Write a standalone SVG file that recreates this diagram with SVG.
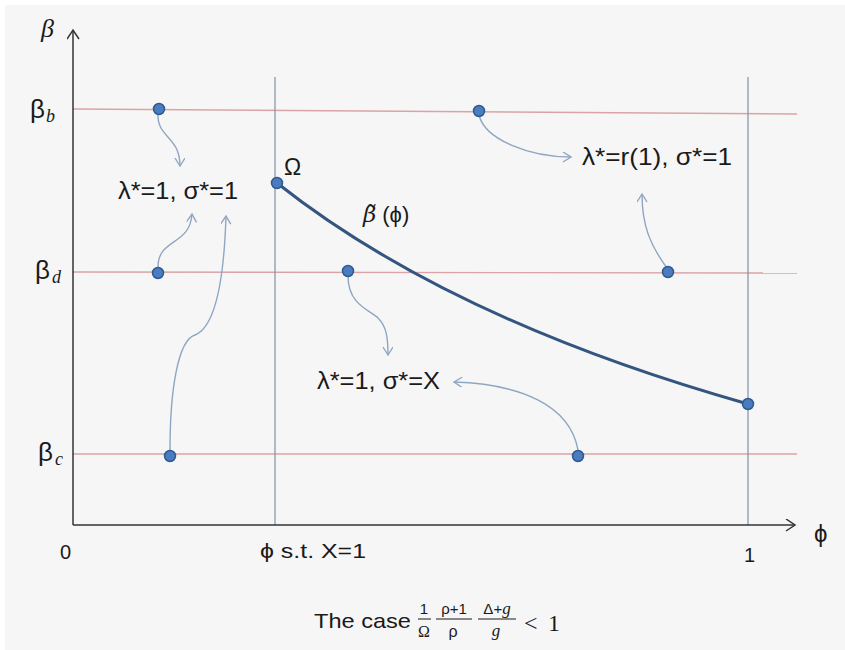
<svg xmlns="http://www.w3.org/2000/svg" width="845" height="650" viewBox="0 0 845 650">
<style>
.t{font-family:"Liberation Sans","DejaVu Sans",sans-serif;fill:#1a1a1a}
.s{font-family:"Liberation Serif","DejaVu Serif",serif;fill:#1a1a1a}
.dj{font-family:"DejaVu Serif",serif;fill:#1a1a1a}
.hl{stroke:#dba3a6;stroke-width:1.4;fill:none}
.vl{stroke:#7f93a8;stroke-width:1.2;fill:none}
.ax{stroke:#333;stroke-width:1.5;fill:none}
.cn{stroke:#8fa6c2;stroke-width:1.4;fill:none;marker-end:url(#ah)}
.dot{fill:#4a7cbf;stroke:#2f5a8f;stroke-width:1.5}
</style>
<defs>
<marker id="ah" markerUnits="userSpaceOnUse" markerWidth="12" markerHeight="12" refX="9" refY="5" orient="auto">
<path d="M1,0 L9,5 L1,10" fill="none" stroke="#8fa6c2" stroke-width="1.4"/>
</marker>
<marker id="axh" markerUnits="userSpaceOnUse" markerWidth="14" markerHeight="14" refX="10" refY="6" orient="auto">
<path d="M1,0 L10,6 L1,12" fill="none" stroke="#333" stroke-width="1.5"/>
</marker>
</defs>
<rect x="0" y="0" width="845" height="650" fill="#ffffff"/>
<rect x="5" y="5" width="840" height="645" fill="#f6f6f6"/>

<g id="grid">
<line class="hl" x1="73" y1="109" x2="797" y2="114"/>
<line class="hl" x1="73" y1="272" x2="797" y2="273"/>
<line class="hl" x1="73" y1="454" x2="797" y2="454"/>
<line class="vl" x1="275" y1="77" x2="275" y2="525"/>
<line class="vl" x1="748" y1="77" x2="748" y2="525"/>
</g>

<g id="axes">
<line class="ax" x1="73" y1="525" x2="73" y2="30" marker-end="url(#axh)"/>
<line class="ax" x1="73" y1="525" x2="795" y2="525" marker-end="url(#axh)"/>
<text class="s" x="41" y="37" font-size="26" font-style="italic">β</text>
<text class="t" x="814" y="542" font-size="24">ϕ</text>
<text class="t" x="60" y="559" font-size="20">0</text>
<text class="t" x="260" y="558" font-size="20" textLength="106" lengthAdjust="spacingAndGlyphs">ϕ s.t. X=1</text>
<text class="t" x="744" y="562" font-size="20">1</text>
<text class="t" x="30" y="118" font-size="26">β</text><text class="s" x="46" y="122" font-size="18" font-style="italic">b</text>
<text class="t" x="35" y="279" font-size="26">β</text><text class="s" x="52" y="283" font-size="18" font-style="italic">d</text>
<text class="t" x="38" y="461" font-size="26">β</text><text class="s" x="55" y="465" font-size="18" font-style="italic">c</text>
</g>

<g id="curve">
<path d="M277,183 Q450,320 748,404" fill="none" stroke="#34557f" stroke-width="3"/>
<text class="t" x="284" y="175" font-size="23">Ω</text>
<text x="363" y="222" font-size="23"><tspan class="dj" font-style="italic">β̃</tspan><tspan class="t" font-size="22" dx="6">(ϕ)</tspan></text>
</g>

<g id="connectors">
<path class="cn" d="M158,114 C157,138 180,136 180,166"/>
<path class="cn" d="M158,267 C158,238 190,246 192,214"/>
<path class="cn" d="M170,450 C170,390 178,340 195,335 C215,327 224,280 226,216"/>
<path class="cn" d="M348,276 C348,305 370,310 378,318 C386,326 388,336 388,355"/>
<path class="cn" d="M578,450 C570,405 520,384 454,382"/>
<path class="cn" d="M479,115 C485,140 530,157 571,157"/>
<path class="cn" d="M667,268 C650,245 642,225 642,194"/>
</g>

<g id="labels">
<text class="t" x="118" y="199" font-size="24" textLength="120" lengthAdjust="spacingAndGlyphs">λ*=1, σ*=1</text>
<text class="t" x="582" y="165" font-size="24" textLength="150" lengthAdjust="spacingAndGlyphs">λ*=r(1), σ*=1</text>
<text class="t" x="317" y="389" font-size="24" textLength="123" lengthAdjust="spacingAndGlyphs">λ*=1, σ*=X</text>
</g>

<g id="dots">
<circle class="dot" cx="159" cy="109" r="5.5"/>
<circle class="dot" cx="479" cy="111" r="5.5"/>
<circle class="dot" cx="158" cy="273" r="5.5"/>
<circle class="dot" cx="348" cy="271" r="5.5"/>
<circle class="dot" cx="668" cy="272" r="5.5"/>
<circle class="dot" cx="170" cy="456" r="5.5"/>
<circle class="dot" cx="578" cy="456" r="5.5"/>
<circle class="dot" cx="277" cy="183" r="5.5"/>
<circle class="dot" cx="748" cy="404" r="5.5"/>
</g>

<g id="caption">
<text class="t" x="314" y="628" font-size="21" textLength="97" lengthAdjust="spacingAndGlyphs">The case</text>
<text class="t" x="424" y="614" font-size="15" text-anchor="middle">1</text>
<line x1="418" y1="619" x2="431" y2="619" stroke="#1a1a1a" stroke-width="1"/>
<text class="s" x="424" y="637" font-size="16" text-anchor="middle">Ω</text>
<text class="t" x="454" y="614" font-size="15" text-anchor="middle">ρ+1</text>
<line x1="436" y1="619" x2="472" y2="619" stroke="#1a1a1a" stroke-width="1"/>
<text class="t" x="453" y="637" font-size="16" text-anchor="middle">ρ</text>
<text class="t" x="497" y="614" font-size="15" text-anchor="middle">Δ+<tspan class="s" font-style="italic" font-size="17">g</tspan></text>
<line x1="478" y1="619" x2="516" y2="619" stroke="#1a1a1a" stroke-width="1"/>
<text class="s" x="496" y="636" font-size="17" font-style="italic" text-anchor="middle">g</text>
<text class="s" x="524" y="631" font-size="24">&lt;</text>
<text class="s" x="548" y="631" font-size="24">1</text>
</g>
</svg>
